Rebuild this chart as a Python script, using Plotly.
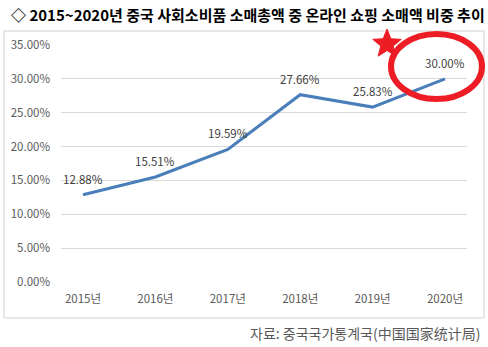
import math
import plotly.graph_objects as go

years = ["2015년", "2016년", "2017년", "2018년", "2019년", "2020년"]
shares = [12.88, 15.51, 19.59, 27.66, 25.83, 30.00]
value_labels = [f"{v:.2f}%" for v in shares]
y_ticks = [0, 5, 10, 15, 20, 25, 30, 35]
y_tick_labels = [f"{t:.2f}%" for t in y_ticks]

title_text = "◇ 2015~2020년 중국 사회소비품 소매총액 중 온라인 쇼핑 소매액 비중 추이"
source_text = "자료: 중국국가통계국(中国国家统计局)"

W, H = 488, 347
L, R, T, B = 61, 21, 45, 65
pw, ph = W - L - R, H - T - B


def px_x(x):
    return (x - L) / pw


def px_y(y):
    return (H - B - y) / ph


def star_path(cx, cy, r_out, r_in):
    pts = []
    for i in range(10):
        r = r_out if i % 2 == 0 else r_in
        a = -math.pi / 2 + i * math.pi / 5
        pts.append((px_x(cx + r * math.cos(a)), px_y(cy + r * math.sin(a))))
    return "M " + " L ".join(f"{x:.4f},{y:.4f}" for x, y in pts) + " Z"


FONT = "Noto Sans CJK KR, Malgun Gothic, sans-serif"

fig = go.Figure()
fig.add_trace(go.Scatter(
    x=years, y=shares,
    mode="lines",
    line=dict(color="#4a7ebb", width=3),
    hoverinfo="skip",
))

# value labels above each point
for yr, v, lab in zip(years, shares, value_labels):
    fig.add_annotation(x=yr, y=v, text=lab, showarrow=False,
                       yshift=16, xanchor="center", yanchor="middle",
                       font=dict(family=FONT, size=11.5, color="#404040"))

# outer chart frame
fig.add_shape(type="rect", xref="paper", yref="paper",
              x0=px_x(4), x1=px_x(484), y0=px_y(318), y1=px_y(31),
              line=dict(color="#d0d0d0", width=1), layer="below")

# red highlight ellipse around the 2020 value
fig.add_shape(type="circle", xref="paper", yref="paper",
              x0=px_x(391), x1=px_x(482), y0=px_y(99), y1=px_y(34),
              line=dict(color="#ee1c25", width=6))

# red star marker next to the ellipse
fig.add_shape(type="path", xref="paper", yref="paper",
              path=star_path(387, 44, 15, 6.5),
              fillcolor="#ee1c25", line=dict(color="#ee1c25", width=1))

fig.add_annotation(text="<b>" + title_text + "</b>", xref="paper", yref="paper",
                   x=px_x(9), y=px_y(15), showarrow=False,
                   xanchor="left", yanchor="middle",
                   font=dict(family=FONT, size=15, color="#000000"))

fig.add_annotation(text=source_text, xref="paper", yref="paper",
                   x=px_x(482), y=px_y(333), showarrow=False,
                   xanchor="right", yanchor="middle",
                   font=dict(family=FONT, size=14, color="#595959"))

fig.update_layout(
    width=W, height=H,
    margin=dict(l=L, r=R, t=T, b=B),
    paper_bgcolor="white", plot_bgcolor="white",
    showlegend=False,
    xaxis=dict(
        type="category", showgrid=False, zeroline=False, showline=False,
        ticks="", tickfont=dict(family=FONT, size=11.5, color="#595959"),
        ticklabelstandoff=8,
    ),
    yaxis=dict(
        range=[0, 35], tickvals=y_ticks, ticktext=y_tick_labels,
        showgrid=True, gridcolor="#d9d9d9", gridwidth=1,
        zeroline=False, showline=False, ticks="",
        tickfont=dict(family=FONT, size=11.5, color="#595959"),
        ticklabelstandoff=10,
    ),
)

fig.write_html("out.html")
